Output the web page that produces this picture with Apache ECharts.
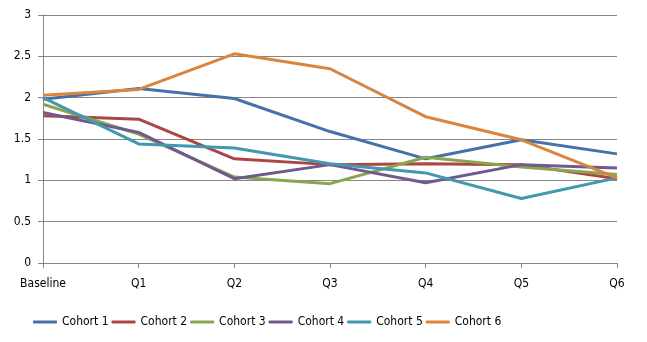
<!DOCTYPE html>
<html><head><meta charset="utf-8">
<script src="https://cdn.jsdelivr.net/npm/echarts@6/dist/echarts.min.js"></script>
<style>html,body{margin:0;padding:0;background:#fff}#c{width:647px;height:342px}</style>
</head><body><div id="c"></div>
<script>
var categories = ['Baseline','Q1','Q2','Q3','Q4','Q5','Q6'];
var cohort1 = [1.98, 2.11, 1.99, 1.59, 1.26, 1.49, 1.32];
var cohort2 = [1.78, 1.74, 1.26, 1.19, 1.20, 1.19, 1.02];
var cohort3 = [1.92, 1.56, 1.04, 0.96, 1.28, 1.16, 1.07];
var cohort4 = [1.82, 1.58, 1.02, 1.19, 0.97, 1.19, 1.15];
var cohort5 = [2.00, 1.44, 1.39, 1.20, 1.09, 0.78, 1.03];
var cohort6 = [2.03, 2.10, 2.53, 2.35, 1.77, 1.49, 1.03];
var seriesNames = ['Cohort 1','Cohort 2','Cohort 3','Cohort 4','Cohort 5','Cohort 6'];
var seriesData = [cohort1, cohort2, cohort3, cohort4, cohort5, cohort6];
var colors = ['#4572A7','#AA4643','#89A54E','#71588F','#4198AF','#DB843D'];
var font = 'Tahoma, "DejaVu Sans Condensed", "Liberation Sans", sans-serif';

var chart = echarts.init(document.getElementById('c'));
chart.setOption({
  animation: false,
  color: colors,
  textStyle: {fontFamily: font},
  grid: {left: 43, right: 30, top: 15, bottom: 79},
  legend: {
    bottom: 9, left: 28,
    icon: 'roundRect', itemWidth: 24, itemHeight: 3, itemGap: 3,
    textStyle: {fontFamily: font, fontSize: 12, color: '#000'},
    data: seriesNames
  },
  xAxis: {
    type: 'category', data: categories, boundaryGap: false,
    axisLine: {lineStyle: {color: '#868686'}},
    axisTick: {show: true, length: 5, lineStyle: {color: '#868686'}},
    axisLabel: {color: '#000', fontSize: 12, margin: 15, fontFamily: font}
  },
  yAxis: {
    type: 'value', min: 0, max: 3, interval: 0.5,
    axisLine: {show: true, lineStyle: {color: '#868686'}},
    axisTick: {show: true, length: 5, lineStyle: {color: '#868686'}},
    axisLabel: {color: '#000', fontSize: 12, margin: 12, fontFamily: font},
    splitLine: {lineStyle: {color: '#868686'}}
  },
  series: seriesData.map(function(d, i){
    return {name: seriesNames[i], type: 'line', data: d, showSymbol: false, symbol: 'none',
      lineStyle: {width: 3, color: colors[i]}, itemStyle: {color: colors[i]}};
  })
});
</script></body></html>
